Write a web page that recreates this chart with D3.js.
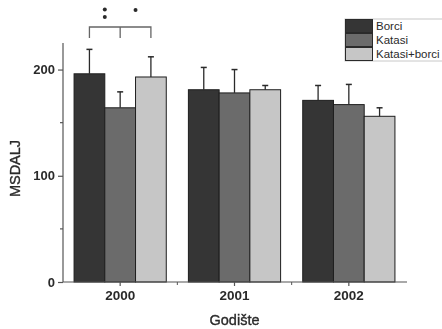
<!DOCTYPE html>
<html>
<head>
<meta charset="utf-8">
<script src="https://cdn.jsdelivr.net/npm/d3@7"></script>
<style>
  html, body { margin: 0; padding: 0; background: #fff; }
  svg { display: block; font-family: "Liberation Sans", Arial, sans-serif; filter: blur(0.35px); }
</style>
</head>
<body>
<svg id="chart" width="442" height="329"></svg>
<script>
// Mean MSDALJ per birth year (Godište) and group, with upper error limits
const years = ["2000", "2001", "2002"];
const series = ["Borci", "Katasi", "Katasi+borci"];
const borciMean = [196, 181, 171];
const katasiMean = [164, 178, 167];
const kataBorciMean = [193, 181, 156];
const borciErr = [23, 21, 14];
const katasiErr = [15, 22, 19];
const kataBorciErr = [19, 4, 8];
const yTicks = [0, 100, 200];
const yMinorTicks = [50, 150];
const colors = ["#353535", "#6b6b6b", "#c6c6c6"];

const means = [borciMean, katasiMean, kataBorciMean];
const errs = [borciErr, katasiErr, kataBorciErr];
const rows = [];
years.forEach((yr, i) => {
  series.forEach((s, j) => {
    rows.push({ year: yr, series: s, mean: means[j][i], err: errs[j][i], color: colors[j] });
  });
});

const svg = d3.select("#chart");
const axisColor = "#555";
const textColor = "#2a2a2a";

const x = d3.scaleBand().domain(years).range([63, 406]).padding(0);
const x1 = d3.scaleBand().domain(series).range([0, x.bandwidth()]).paddingInner(0).paddingOuter(0.36);
const y = d3.scaleLinear().domain([0, 225]).range([282, 43]);

// Bars
const g = svg.append("g");
g.selectAll("rect.bar").data(rows).join("rect")
  .attr("class", "bar")
  .attr("x", d => x(d.year) + x1(d.series))
  .attr("y", d => y(d.mean))
  .attr("width", x1.bandwidth())
  .attr("height", d => y(0) - y(d.mean))
  .attr("fill", d => d.color)
  .attr("stroke", "#1e1e1e")
  .attr("stroke-width", 1);

// Upper error bars
const cap = 3;
g.selectAll("line.err").data(rows).join("line")
  .attr("x1", d => x(d.year) + x1(d.series) + x1.bandwidth() / 2)
  .attr("x2", d => x(d.year) + x1(d.series) + x1.bandwidth() / 2)
  .attr("y1", d => y(d.mean))
  .attr("y2", d => y(d.mean + d.err))
  .attr("stroke", "#2a2a2a").attr("stroke-width", 1.3);
g.selectAll("line.cap").data(rows).join("line")
  .attr("x1", d => x(d.year) + x1(d.series) + x1.bandwidth() / 2 - cap)
  .attr("x2", d => x(d.year) + x1(d.series) + x1.bandwidth() / 2 + cap)
  .attr("y1", d => y(d.mean + d.err))
  .attr("y2", d => y(d.mean + d.err))
  .attr("stroke", "#2a2a2a").attr("stroke-width", 1.5);

// Y axis
const yAxis = svg.append("g").attr("transform", "translate(63,0)")
  .call(d3.axisLeft(y).tickValues(yTicks).tickSize(5).tickPadding(3));
yAxis.select(".domain").attr("d", `M0,${y(225)}V${y(0)}`);
yAxis.selectAll(".domain, .tick line").attr("stroke", axisColor).attr("stroke-width", 1.2);
yAxis.selectAll("text").attr("fill", textColor).style("font-size", "13px").style("font-weight", "bold");
svg.append("g").attr("transform", "translate(63,0)")
  .selectAll("line").data(yMinorTicks).join("line")
  .attr("x1", -3).attr("x2", 0)
  .attr("y1", d => y(d)).attr("y2", d => y(d))
  .attr("stroke", axisColor).attr("stroke-width", 1.2);

// X axis
const xAxis = svg.append("g").attr("transform", `translate(0,${y(0)})`)
  .call(d3.axisBottom(x).tickSize(4).tickPadding(4));
xAxis.select(".domain").attr("d", `M63,0H407`);
xAxis.selectAll(".domain, .tick line").attr("stroke", axisColor).attr("stroke-width", 1.2);
xAxis.selectAll("text").attr("fill", textColor).style("font-size", "13.5px").style("font-weight", "bold");
// minor ticks between years
svg.append("g").attr("transform", `translate(0,${y(0)})`)
  .selectAll("line").data(years.slice(1)).join("line")
  .attr("x1", d => x(d)).attr("x2", d => x(d))
  .attr("y1", 0).attr("y2", 3)
  .attr("stroke", axisColor).attr("stroke-width", 1);

// Axis titles
svg.append("text")
  .attr("transform", `translate(20,${(y(0) + y(225)) / 2 + 6}) rotate(-90)`)
  .attr("text-anchor", "middle")
  .attr("fill", textColor)
  .attr("stroke", textColor).attr("stroke-width", 0.35)
  .style("font-size", "14.5px")
  .text("MSDALJ");
svg.append("text")
  .attr("x", x("2001") + x.bandwidth() / 2)
  .attr("y", 325)
  .attr("text-anchor", "middle")
  .attr("fill", textColor)
  .attr("stroke", textColor).attr("stroke-width", 0.35)
  .style("font-size", "14.5px")
  .text("Godište");

// Significance bracket for 2000
const c0 = x("2000") + x1("Borci") + x1.bandwidth() / 2;
const c1 = x("2000") + x1("Katasi") + x1.bandwidth() / 2;
const c2 = x("2000") + x1("Katasi+borci") + x1.bandwidth() / 2;
const by = 27, bt = 38;
svg.append("path")
  .attr("d", `M${c0},${bt}V${by}H${c2}V${bt}M${c1},${by}V${bt}`)
  .attr("fill", "none").attr("stroke", "#666").attr("stroke-width", 1.3);
const marks = [
  { x: (c0 + c1) / 2, y: 9.5 }, { x: (c0 + c1) / 2, y: 17 },
  { x: (c1 + c2) / 2, y: 10 }
];
svg.selectAll("circle.sig").data(marks).join("circle")
  .attr("cx", d => d.x).attr("cy", d => d.y).attr("r", 2)
  .attr("fill", "#2a2a2a");

// Legend
const lg = svg.append("g").attr("transform", "translate(345,19)");
lg.append("rect").attr("x", 0).attr("y", 0).attr("width", 110).attr("height", 42)
  .attr("fill", "#fff").attr("stroke", "#c8c8c8").attr("stroke-width", 1);
series.forEach((s, j) => {
  lg.append("rect")
    .attr("x", 0.5).attr("y", 0.5 + j * 14)
    .attr("width", 27).attr("height", 13)
    .attr("fill", colors[j]).attr("stroke", "#2a2a2a").attr("stroke-width", 1);
  lg.append("text")
    .attr("x", 31).attr("y", 11 + j * 14)
    .attr("fill", textColor)
    .style("font-size", "11.5px")
    .text(s);
});
</script>
</body>
</html>
